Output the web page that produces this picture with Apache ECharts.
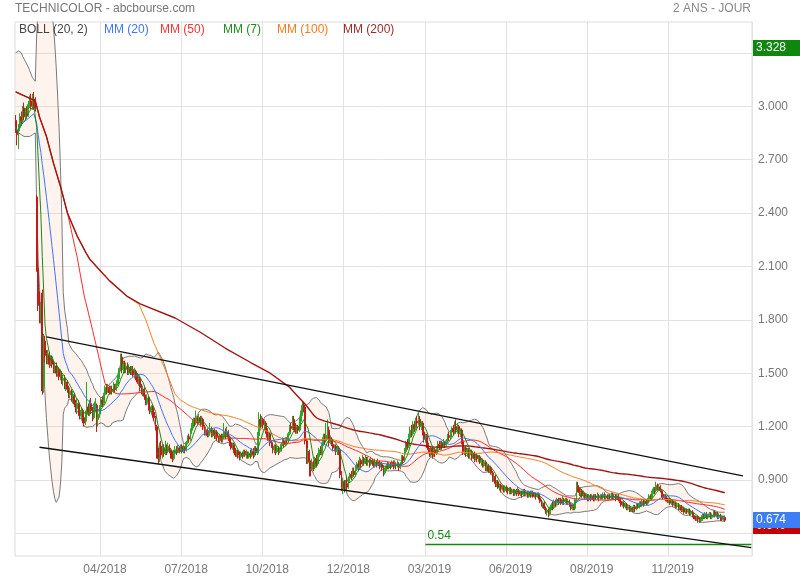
<!DOCTYPE html>
<html>
<head>
<meta charset="utf-8">
<script src="https://cdn.jsdelivr.net/npm/echarts/dist/echarts.min.js"></script>
<style>html,body{margin:0;padding:0;background:#fff}#chart{width:800px;height:580px}</style>
</head>
<body>
<div id="chart"></div>
<script>
// ---------- DATA ----------
const firstDay = '2018-01-23';
const marketHolidays = ['2018-03-30','2018-04-02','2018-05-01','2018-12-25','2018-12-26','2019-01-01','2019-04-19','2019-04-22','2019-05-01','2019-12-25','2019-12-26','2020-01-01'];
const categoryCount = 527;
const firstLabelIndex = 61;
const labelStep = 58;

// daily candles: [open, close, low, high]
const candles = [
[2.92,2.88,2.85,2.95],[2.86,2.84,2.78,2.90],[2.83,2.88,2.76,2.90],[2.88,2.94,2.86,2.96],[2.94,2.92,2.89,2.97],[2.93,2.98,2.91,3.00],[2.99,2.94,2.92,3.02],[2.94,2.97,2.92,2.99],[2.97,2.95,2.93,3.00],[2.96,3.01,2.94,3.03],
[3.01,3.03,2.99,3.06],[3.03,3.00,2.98,3.07],[3.00,3.04,2.98,3.07],[3.04,3.02,2.98,3.08],[3.03,2.99,2.97,3.05],[2.49,2.08,2.07,2.50],[2.09,1.88,1.85,2.12],[1.90,1.84,1.78,1.96],[1.83,1.88,1.78,1.90],[1.95,1.40,1.38,1.97],
[1.42,1.70,1.39,1.72],[1.68,1.60,1.56,1.71],[1.61,1.57,1.55,1.63],[1.57,1.61,1.55,1.63],[1.60,1.55,1.53,1.62],[1.56,1.58,1.54,1.60],[1.58,1.55,1.53,1.60],[1.55,1.52,1.50,1.57],[1.52,1.54,1.50,1.56],[1.54,1.50,1.48,1.56],
[1.50,1.52,1.48,1.54],[1.52,1.48,1.46,1.53],[1.48,1.50,1.46,1.52],[1.49,1.46,1.44,1.51],[1.46,1.47,1.43,1.49],[1.47,1.43,1.41,1.49],[1.43,1.45,1.40,1.47],[1.45,1.41,1.39,1.46],[1.41,1.38,1.36,1.43],[1.38,1.40,1.36,1.42],
[1.40,1.36,1.34,1.41],[1.36,1.38,1.33,1.40],[1.37,1.33,1.31,1.39],[1.33,1.30,1.28,1.35],[1.30,1.33,1.27,1.36],[1.33,1.29,1.26,1.35],[1.29,1.26,1.24,1.31],[1.26,1.29,1.24,1.31],[1.29,1.25,1.22,1.30],[1.25,1.22,1.20,1.27],
[1.23,1.27,1.21,1.29],[1.27,1.31,1.25,1.45],[1.31,1.28,1.26,1.33],[1.28,1.33,1.26,1.35],[1.33,1.29,1.27,1.36],[1.29,1.25,1.23,1.31],[1.25,1.31,1.24,1.33],[1.31,1.34,1.28,1.36],[1.32,1.24,1.17,1.33],[1.24,1.27,1.20,1.29],
[1.27,1.31,1.25,1.32],[1.31,1.35,1.29,1.36],[1.35,1.33,1.31,1.37],[1.33,1.38,1.32,1.39],[1.38,1.42,1.36,1.43],[1.42,1.40,1.38,1.44],[1.40,1.42,1.39,1.44],[1.42,1.39,1.38,1.43],[1.39,1.41,1.38,1.43],[1.41,1.40,1.38,1.43],
[1.40,1.43,1.39,1.45],[1.43,1.41,1.39,1.44],[1.41,1.44,1.40,1.46],[1.44,1.47,1.43,1.49],[1.47,1.52,1.46,1.53],[1.52,1.59,1.51,1.61],[1.59,1.52,1.50,1.61],[1.52,1.55,1.50,1.57],[1.55,1.52,1.50,1.57],[1.52,1.54,1.50,1.56],
[1.54,1.50,1.49,1.56],[1.50,1.53,1.49,1.55],[1.53,1.51,1.49,1.54],[1.51,1.52,1.49,1.54],[1.52,1.49,1.48,1.54],[1.49,1.51,1.47,1.53],[1.51,1.48,1.46,1.52],[1.48,1.45,1.44,1.50],[1.45,1.47,1.43,1.49],[1.47,1.42,1.40,1.48],
[1.42,1.40,1.38,1.44],[1.40,1.41,1.37,1.43],[1.41,1.37,1.35,1.42],[1.37,1.34,1.32,1.38],[1.34,1.36,1.32,1.38],[1.36,1.31,1.29,1.37],[1.31,1.29,1.27,1.33],[1.29,1.31,1.27,1.32],[1.31,1.27,1.25,1.32],[1.28,1.25,1.23,1.29],
[1.25,1.20,1.18,1.26],[1.20,1.05,1.02,1.21],[1.05,1.02,0.99,1.08],[1.02,1.09,1.00,1.11],[1.09,1.04,1.02,1.12],[1.04,1.08,1.02,1.10],[1.08,1.05,1.03,1.10],[1.05,1.08,1.04,1.12],[1.08,1.06,1.04,1.10],[1.06,1.09,1.05,1.11],
[1.09,1.07,1.05,1.10],[1.07,1.04,1.02,1.08],[1.04,1.02,1.00,1.06],[1.02,1.05,1.01,1.07],[1.05,1.07,1.04,1.09],[1.07,1.06,1.04,1.09],[1.06,1.08,1.05,1.10],[1.08,1.07,1.05,1.09],[1.07,1.09,1.06,1.10],[1.09,1.06,1.05,1.10],
[1.06,1.08,1.05,1.10],[1.08,1.07,1.05,1.09],[1.07,1.11,1.06,1.12],[1.11,1.14,1.10,1.15],[1.14,1.13,1.11,1.16],[1.13,1.18,1.12,1.19],[1.18,1.21,1.16,1.22],[1.21,1.24,1.19,1.25],[1.24,1.22,1.20,1.25],[1.22,1.25,1.21,1.29],
[1.25,1.23,1.21,1.26],[1.23,1.25,1.22,1.27],[1.25,1.22,1.20,1.26],[1.22,1.24,1.21,1.26],[1.24,1.20,1.18,1.25],[1.20,1.16,1.15,1.21],[1.16,1.18,1.15,1.20],[1.18,1.15,1.14,1.19],[1.15,1.17,1.14,1.18],[1.17,1.19,1.15,1.22],
[1.19,1.16,1.14,1.20],[1.16,1.18,1.14,1.19],[1.18,1.15,1.13,1.19],[1.15,1.17,1.13,1.18],[1.17,1.14,1.12,1.18],[1.14,1.12,1.11,1.15],[1.12,1.15,1.11,1.16],[1.15,1.13,1.11,1.16],[1.13,1.14,1.11,1.16],[1.14,1.17,1.13,1.22],
[1.17,1.15,1.13,1.19],[1.15,1.17,1.14,1.20],[1.17,1.14,1.12,1.18],[1.14,1.11,1.09,1.15],[1.11,1.08,1.07,1.12],[1.08,1.10,1.07,1.11],[1.10,1.06,1.05,1.11],[1.06,1.04,1.03,1.08],[1.04,1.06,1.03,1.07],[1.06,1.04,1.02,1.07],
[1.04,1.03,1.01,1.06],[1.03,1.05,1.02,1.06],[1.05,1.04,1.02,1.06],[1.04,1.06,1.03,1.07],[1.06,1.04,1.03,1.07],[1.04,1.05,1.02,1.07],[1.05,1.03,1.02,1.06],[1.03,1.05,1.02,1.06],[1.05,1.04,1.02,1.07],[1.04,1.06,1.03,1.08],
[1.06,1.04,1.02,1.08],[1.04,1.08,1.03,1.09],[1.08,1.06,1.04,1.09],[1.05,1.15,1.04,1.17],[1.15,1.24,1.13,1.28],[1.24,1.21,1.19,1.27],[1.21,1.24,1.20,1.26],[1.24,1.21,1.19,1.25],[1.21,1.22,1.18,1.24],[1.22,1.18,1.16,1.23],
[1.18,1.14,1.12,1.19],[1.14,1.16,1.12,1.17],[1.16,1.11,1.09,1.17],[1.11,1.09,1.08,1.12],[1.09,1.07,1.05,1.10],[1.07,1.09,1.05,1.10],[1.09,1.06,1.04,1.10],[1.06,1.08,1.05,1.09],[1.08,1.06,1.04,1.09],[1.06,1.07,1.05,1.08],
[1.07,1.10,1.06,1.11],[1.10,1.12,1.09,1.14],[1.12,1.10,1.08,1.13],[1.10,1.13,1.09,1.14],[1.13,1.12,1.10,1.14],[1.12,1.16,1.11,1.17],[1.16,1.20,1.15,1.21],[1.20,1.19,1.17,1.22],[1.19,1.24,1.18,1.26],[1.24,1.20,1.18,1.26],
[1.20,1.17,1.16,1.22],[1.17,1.20,1.16,1.21],[1.20,1.18,1.16,1.21],[1.18,1.23,1.17,1.25],[1.23,1.27,1.22,1.29],[1.27,1.32,1.26,1.34],[1.32,1.30,1.28,1.34],[1.31,1.12,1.10,1.32],[1.12,1.02,0.99,1.13],[1.03,1.06,0.99,1.08],
[1.06,1.00,0.92,1.07],[1.00,0.96,0.92,1.01],[0.96,1.00,0.95,1.02],[1.00,0.97,0.95,1.01],[0.97,1.02,0.96,1.03],[1.02,0.99,0.97,1.04],[0.99,1.03,0.98,1.05],[1.03,1.07,1.02,1.08],[1.07,1.05,1.04,1.09],[1.05,1.10,1.04,1.11],
[1.10,1.14,1.09,1.16],[1.14,1.12,1.10,1.16],[1.12,1.15,1.11,1.22],[1.15,1.17,1.13,1.24],[1.18,1.11,1.09,1.20],[1.11,1.13,1.10,1.15],[1.13,1.10,1.09,1.14],[1.10,1.08,1.06,1.11],[1.08,1.09,1.06,1.10],[1.09,1.06,1.04,1.10],
[1.06,1.08,1.04,1.09],[1.08,1.06,1.04,1.09],[1.07,0.93,0.91,1.08],[0.93,0.86,0.84,0.95],[0.86,0.89,0.82,0.91],[0.89,0.85,0.83,0.90],[0.85,0.88,0.84,0.90],[0.88,0.86,0.84,0.92],[0.86,0.91,0.85,0.92],[0.91,0.93,0.89,0.94],
[0.93,0.92,0.90,0.95],[0.92,0.95,0.91,0.97],[0.95,0.93,0.92,0.97],[0.93,0.96,0.92,0.98],[0.96,0.99,0.95,1.00],[0.99,0.97,0.95,1.01],[0.97,1.01,0.96,1.03],[1.01,0.99,0.97,1.02],[0.99,1.02,0.98,1.04],[1.02,1.00,0.98,1.03],
[1.00,1.02,0.99,1.04],[1.02,1.00,0.98,1.03],[1.00,1.01,0.98,1.03],[1.01,0.99,0.97,1.02],[0.99,1.01,0.98,1.03],[1.01,1.00,0.98,1.02],[1.00,0.98,0.97,1.01],[0.98,1.00,0.97,1.02],[1.00,0.99,0.97,1.01],[0.99,1.00,0.98,1.02],
[1.00,0.98,0.96,1.01],[0.98,0.99,0.97,1.00],[0.99,0.97,0.95,1.00],[0.97,0.94,0.92,0.98],[0.94,0.96,0.93,0.97],[0.96,0.98,0.95,0.99],[0.98,0.97,0.96,1.00],[0.97,0.99,0.96,1.00],[0.99,0.98,0.96,1.00],[0.98,1.00,0.97,1.01],
[1.00,0.98,0.96,1.01],[0.98,0.99,0.97,1.01],[0.99,0.98,0.96,1.00],[0.98,0.99,0.97,1.01],[0.99,0.97,0.95,1.00],[0.97,0.99,0.96,1.00],[0.99,1.03,0.98,1.04],[1.03,1.01,0.99,1.04],[1.01,1.06,1.00,1.08],[1.06,1.11,1.05,1.12],
[1.11,1.09,1.07,1.13],[1.09,1.14,1.08,1.16],[1.14,1.18,1.12,1.20],[1.18,1.16,1.14,1.21],[1.16,1.21,1.15,1.23],[1.21,1.19,1.17,1.23],[1.19,1.23,1.18,1.25],[1.23,1.22,1.20,1.26],[1.22,1.24,1.21,1.28],[1.24,1.20,1.18,1.26],
[1.20,1.22,1.18,1.23],[1.22,1.17,1.15,1.23],[1.17,1.13,1.11,1.18],[1.13,1.15,1.11,1.16],[1.15,1.10,1.08,1.16],[1.10,1.07,1.05,1.11],[1.07,1.05,1.03,1.08],[1.05,1.08,1.03,1.09],[1.08,1.04,1.02,1.09],[1.04,1.07,1.03,1.08],
[1.07,1.05,1.03,1.08],[1.05,1.08,1.04,1.09],[1.08,1.10,1.06,1.12],[1.10,1.08,1.07,1.12],[1.08,1.11,1.07,1.12],[1.11,1.09,1.07,1.12],[1.09,1.11,1.08,1.13],[1.11,1.10,1.08,1.12],[1.10,1.12,1.09,1.13],[1.12,1.15,1.11,1.16],
[1.15,1.14,1.12,1.17],[1.14,1.17,1.13,1.18],[1.17,1.19,1.15,1.20],[1.19,1.17,1.15,1.21],[1.17,1.20,1.16,1.23],[1.20,1.18,1.16,1.24],[1.18,1.20,1.16,1.22],[1.20,1.16,1.14,1.21],[1.16,1.18,1.14,1.19],[1.18,1.12,1.10,1.19],
[1.12,1.06,1.04,1.13],[1.06,1.08,1.04,1.09],[1.08,1.05,1.03,1.09],[1.05,1.07,1.03,1.08],[1.07,1.04,1.02,1.08],[1.04,1.06,1.02,1.07],[1.06,1.03,1.01,1.07],[1.03,1.05,1.02,1.06],[1.05,1.02,1.00,1.06],[1.02,1.04,1.01,1.05],
[1.04,1.02,1.00,1.05],[1.02,1.03,1.00,1.04],[1.03,1.00,0.99,1.04],[1.00,1.01,0.98,1.02],[1.01,0.98,0.97,1.02],[0.98,1.00,0.97,1.01],[1.00,0.97,0.95,1.01],[0.97,0.98,0.95,0.99],[0.98,0.95,0.94,0.99],[0.95,0.97,0.94,0.98],
[0.97,0.94,0.93,0.98],[0.94,0.91,0.89,0.95],[0.91,0.92,0.89,0.93],[0.92,0.88,0.86,0.93],[0.88,0.89,0.86,0.90],[0.89,0.86,0.85,0.90],[0.86,0.87,0.84,0.88],[0.87,0.85,0.83,0.88],[0.85,0.86,0.84,0.87],[0.86,0.84,0.83,0.87],
[0.84,0.86,0.83,0.87],[0.86,0.85,0.83,0.87],[0.85,0.84,0.82,0.86],[0.84,0.85,0.82,0.86],[0.85,0.83,0.82,0.86],[0.83,0.84,0.82,0.85],[0.84,0.82,0.81,0.85],[0.82,0.84,0.81,0.85],[0.84,0.83,0.81,0.85],[0.83,0.84,0.82,0.86],
[0.84,0.82,0.81,0.85],[0.82,0.83,0.81,0.84],[0.83,0.82,0.80,0.84],[0.82,0.84,0.81,0.85],[0.84,0.82,0.81,0.85],[0.82,0.83,0.81,0.84],[0.83,0.81,0.80,0.84],[0.81,0.83,0.80,0.84],[0.83,0.82,0.80,0.84],[0.82,0.83,0.81,0.84],
[0.83,0.81,0.80,0.84],[0.81,0.82,0.80,0.83],[0.82,0.81,0.79,0.83],[0.81,0.82,0.80,0.83],[0.82,0.80,0.79,0.83],[0.80,0.78,0.77,0.81],[0.78,0.76,0.75,0.79],[0.76,0.77,0.74,0.78],[0.77,0.74,0.73,0.78],[0.74,0.72,0.71,0.75],
[0.72,0.73,0.70,0.74],[0.73,0.71,0.69,0.74],[0.71,0.74,0.70,0.75],[0.74,0.76,0.73,0.77],[0.76,0.75,0.73,0.78],[0.75,0.78,0.74,0.79],[0.78,0.77,0.75,0.79],[0.77,0.79,0.76,0.80],[0.79,0.78,0.76,0.80],[0.78,0.79,0.77,0.80],
[0.79,0.77,0.76,0.80],[0.77,0.79,0.76,0.81],[0.79,0.78,0.76,0.80],[0.78,0.79,0.77,0.80],[0.79,0.77,0.76,0.80],[0.77,0.78,0.76,0.79],[0.78,0.76,0.75,0.79],[0.76,0.74,0.73,0.77],[0.74,0.75,0.73,0.76],[0.75,0.74,0.73,0.76],
[0.74,0.79,0.73,0.80],[0.79,0.87,0.78,0.89],[0.87,0.85,0.83,0.89],[0.85,0.83,0.81,0.86],[0.83,0.84,0.81,0.86],[0.84,0.81,0.80,0.85],[0.81,0.82,0.80,0.84],[0.82,0.80,0.79,0.83],[0.80,0.81,0.79,0.82],[0.81,0.79,0.78,0.82],
[0.79,0.81,0.78,0.82],[0.81,0.80,0.78,0.82],[0.80,0.81,0.79,0.82],[0.81,0.79,0.78,0.82],[0.79,0.81,0.78,0.82],[0.81,0.80,0.79,0.82],[0.80,0.81,0.79,0.83],[0.81,0.80,0.78,0.82],[0.80,0.81,0.79,0.82],[0.81,0.80,0.79,0.82],
[0.80,0.82,0.79,0.83],[0.82,0.80,0.79,0.83],[0.80,0.81,0.79,0.82],[0.81,0.80,0.79,0.82],[0.80,0.81,0.79,0.82],[0.81,0.80,0.79,0.82],[0.80,0.82,0.79,0.83],[0.82,0.80,0.79,0.83],[0.80,0.81,0.79,0.82],[0.81,0.80,0.78,0.82],
[0.80,0.81,0.79,0.82],[0.81,0.79,0.78,0.82],[0.79,0.78,0.77,0.80],[0.78,0.76,0.75,0.79],[0.76,0.77,0.75,0.78],[0.77,0.75,0.74,0.78],[0.75,0.76,0.74,0.77],[0.76,0.74,0.73,0.77],[0.74,0.75,0.73,0.76],[0.75,0.73,0.72,0.76],
[0.73,0.74,0.72,0.75],[0.74,0.73,0.72,0.75],[0.73,0.75,0.72,0.76],[0.75,0.74,0.72,0.76],[0.74,0.76,0.73,0.77],[0.76,0.75,0.74,0.77],[0.75,0.77,0.74,0.78],[0.77,0.76,0.75,0.78],[0.76,0.78,0.75,0.79],[0.78,0.77,0.75,0.79],
[0.77,0.78,0.76,0.79],[0.78,0.77,0.76,0.79],[0.77,0.79,0.76,0.80],[0.79,0.81,0.78,0.82],[0.81,0.80,0.79,0.82],[0.80,0.83,0.79,0.84],[0.83,0.85,0.82,0.86],[0.85,0.84,0.82,0.86],[0.84,0.87,0.83,0.89],[0.87,0.85,0.84,0.88],
[0.85,0.86,0.84,0.87],[0.86,0.84,0.83,0.87],[0.84,0.82,0.80,0.85],[0.82,0.80,0.79,0.83],[0.80,0.81,0.79,0.82],[0.81,0.79,0.78,0.82],[0.79,0.78,0.77,0.80],[0.78,0.79,0.77,0.80],[0.79,0.77,0.76,0.80],[0.77,0.78,0.76,0.79],
[0.78,0.76,0.75,0.79],[0.76,0.77,0.75,0.78],[0.77,0.75,0.74,0.78],[0.75,0.76,0.74,0.77],[0.76,0.74,0.73,0.77],[0.74,0.75,0.73,0.76],[0.75,0.73,0.72,0.76],[0.73,0.74,0.72,0.75],[0.74,0.72,0.71,0.75],[0.72,0.73,0.71,0.74],
[0.73,0.72,0.71,0.74],[0.72,0.73,0.71,0.74],[0.73,0.71,0.70,0.74],[0.71,0.72,0.70,0.73],[0.72,0.70,0.69,0.73],[0.70,0.69,0.68,0.71],[0.69,0.68,0.67,0.70],[0.68,0.69,0.67,0.70],[0.69,0.68,0.66,0.70],[0.68,0.67,0.66,0.69],
[0.67,0.68,0.66,0.69],[0.68,0.70,0.67,0.71],[0.70,0.69,0.68,0.71],[0.69,0.71,0.68,0.72],[0.71,0.69,0.68,0.72],[0.69,0.70,0.68,0.71],[0.70,0.71,0.69,0.72],[0.71,0.69,0.68,0.72],[0.69,0.70,0.68,0.71],[0.70,0.72,0.69,0.73],
[0.72,0.70,0.69,0.73],[0.70,0.71,0.69,0.72],[0.71,0.69,0.68,0.72],[0.69,0.70,0.68,0.71],[0.70,0.69,0.67,0.71],[0.69,0.68,0.67,0.70],[0.68,0.69,0.67,0.70],[0.69,0.674,0.665,0.70]
];

// Bollinger band values read for the first candles (window not yet full in the visible data)
const bbUpperHead = [3.30,3.31,3.31,3.30,3.30,3.28,3.27,3.25,3.24,3.22,3.20,3.18,3.16,3.15,3.14,3.40,3.55,3.62,3.66];
const bbLowerHead = [2.87,2.86,2.85,2.84,2.84,2.83,2.83,2.83,2.83,2.83,2.83,2.84,2.84,2.85,2.85,2.45,2.15,1.98,1.82];
// long moving averages read where their window is not yet full: [candle index, value]
const ma50Head = [[0,3.08],[14,3.03],[17,2.94],[22,2.83],[27,2.68],[32,2.55],[37,2.40],[44,2.15]];
const ma100Head = [[0,3.08],[14,3.03],[17,2.94],[22,2.83],[27,2.68],[32,2.55],[37,2.40],[44,2.27],[50,2.18],[53,2.14],[60,2.08],[67,2.02],[80,1.93],[88,1.89],[93,1.80],[97,1.71]];
const ma200Head = [[0,3.08],[14,3.03],[17,2.94],[22,2.83],[27,2.68],[32,2.55],[37,2.40],[44,2.27],[50,2.18],[53,2.14],[60,2.08],[67,2.02],[80,1.93],[89,1.89],[114,1.81],[132,1.73],[150,1.64],[168,1.56],[182,1.50],[196,1.42]];

const channelUpper = [[22,1.704],[520,0.923]];
const channelLower = [[17,1.084],[526,0.520]];
const supportLevel = 0.54;
const supportStartIndex = 293;
const gridValues = [0.6,0.9,1.2,1.5,1.8,2.1,2.4,2.7,3.0,3.3];
const labelValues = [0.9,1.2,1.5,1.8,2.1,2.4,2.7,3.0];
const highValue = 3.328;
const lastValue = 0.674;
const hiddenValue = 0.64;
const legendNames = ['BOLL (20, 2)','MM (20)','MM (50)','MM (7)','MM (100)','MM (200)'];

// ---------- DERIVED ----------
function tradingDays(){
  const out=[]; const p=firstDay.split('-').map(Number);
  const d=new Date(Date.UTC(p[0],p[1]-1,p[2]));
  while(out.length<categoryCount){
    const wd=d.getUTCDay(); const s=d.toISOString().slice(0,10);
    if(wd!==0 && wd!==6 && marketHolidays.indexOf(s)<0) out.push(s);
    d.setUTCDate(d.getUTCDate()+1);
  }
  return out;
}
const dates = tradingDays();
const closes = candles.map(c=>c[1]);
const n = closes.length;

function shortMA(win){
  return closes.map((_,i)=>{const a=Math.max(0,i-win+1);let s=0;for(let k=a;k<=i;k++)s+=closes[k];return +(s/(i-a+1)).toFixed(4);});
}
function longMA(win, head){
  const out=new Array(n).fill(null);
  head.forEach(h=>{out[h[0]]=h[1];});
  for(let i=win-1;i<n;i++){let s=0;for(let k=i-win+1;k<=i;k++)s+=closes[k];out[i]=+(s/win).toFixed(4);}
  return out;
}
const ma7 = shortMA(7), ma20 = shortMA(20);
const ma50 = longMA(50, ma50Head), ma100 = longMA(100, ma100Head), ma200 = longMA(200, ma200Head);
const bbUp=[], bbLow=[];
for(let i=0;i<n;i++){
  if(i<19){bbUp.push(bbUpperHead[i]);bbLow.push(bbLowerHead[i]);continue;}
  let s=0;for(let k=i-19;k<=i;k++)s+=closes[k];const m=s/20;
  let v=0;for(let k=i-19;k<=i;k++)v+=(closes[k]-m)*(closes[k]-m);
  const sd=Math.sqrt(v/20);
  bbUp.push(+(m+2*sd).toFixed(4));bbLow.push(+(m-2*sd).toFixed(4));
}
const bbDiff = bbUp.map((u,i)=>+(u-bbLow[i]).toFixed(4));

// ---------- CHART ----------
const FONT = 'Arial, "Liberation Sans", sans-serif';
const showIdx = (i)=> i>=firstLabelIndex && i<n && (i-firstLabelIndex)%labelStep===0;
const chart = echarts.init(document.getElementById('chart'), null, {renderer:'canvas'});
function lineS(name,data,color,width,z){
  return {name,type:'line',data,symbol:'none',connectNulls:true,z:z||4,
    lineStyle:{color,width},itemStyle:{color},silent:true,animation:false};
}
const legendColors = ['#444','#3f74ff','#ff3030','#1e8e1e','#ff7a1a','#9e2b2b'];
const legendX = [19,104,160,223,277,343];

const option = {
  animation:false,
  backgroundColor:'#fff',
  grid:{left:15,right:48,top:22,bottom:24,show:true,borderColor:'#dcdcdc',borderWidth:1,backgroundColor:'transparent'},
  xAxis:{type:'category',data:dates,boundaryGap:true,
    axisLine:{show:false},axisTick:{show:false},
    axisLabel:{interval:(i)=>showIdx(i),formatter:(v)=>v.slice(5,7)+'/'+v.slice(0,4),color:'#777',fontSize:12,fontFamily:FONT,margin:8,padding:[0,0,0,8]},
    splitLine:{show:true,interval:(i)=>showIdx(i),lineStyle:{color:'#e2e2e2',width:1}}},
  yAxis:{type:'value',position:'right',min:0.473,max:3.473,scale:true,
    axisLine:{show:false},
    axisTick:{show:false,customValues:gridValues},
    axisLabel:{customValues:labelValues,formatter:(v)=>v.toFixed(3),color:'#777',fontSize:12,fontFamily:FONT,margin:6,padding:[0,0,5,0]},
    splitLine:{show:true,lineStyle:{color:'#e2e2e2',width:1}}},
  graphic:[
    {type:'text',left:15,top:3,style:{text:'TECHNICOLOR - abcbourse.com',fill:'#777',font:'12px '+FONT}},
    {type:'text',right:49,top:3,style:{text:'2 ANS - JOUR',fill:'#888',font:'12px '+FONT}}
  ].concat(legendNames.map((t,k)=>({type:'text',left:legendX[k],top:24,z:100,style:{text:t,fill:legendColors[k],font:'12px '+FONT}}))),
  series:[
    {name:'bbLow',type:'line',data:bbLow,stack:'bb',symbol:'none',z:1,silent:true,lineStyle:{color:'#7a7a7a',width:1}},
    {name:'bbFill',type:'line',data:bbDiff,stack:'bb',symbol:'none',z:1,silent:true,lineStyle:{width:0},areaStyle:{color:'rgba(247,178,135,0.22)'}},
    {name:'bbUp',type:'line',data:bbUp,symbol:'none',z:1,silent:true,lineStyle:{color:'#7a7a7a',width:1}},
    {name:'candles',type:'candlestick',data:candles.map(c=>[c[0],c[1],c[2],c[3]]),z:3,barWidth:1.4,silent:true,
      itemStyle:{color:'#2fcf2f',color0:'#e32222',borderColor:'#25a825',borderColor0:'#c21b1b',borderWidth:1},
      markLine:{silent:true,symbol:['none','none'],animation:false,
        data:[
          [{coord:[supportStartIndex,supportLevel],lineStyle:{color:'#118a11',width:1.3,type:'solid'},
            label:{show:true,position:'insideStartTop',formatter:String(supportLevel),color:'#1a8a1a',fontSize:12,fontFamily:FONT,distance:2}},
           {coord:[categoryCount-1,supportLevel]}]
        ]}},
    lineS('MM (50)',ma50,'#ff2a2a',1,4),
    lineS('MM (100)',ma100,'#ff7d20',1,4),
    lineS('MM (200)',ma200,'#a11313',1.4,5),
    lineS('MM (20)',ma20,'#3f74ff',1,6),
    lineS('MM (7)',ma7,'#1a8a1a',1,7),
    lineS('channelUpper',channelUpper,'#111',1.3,8),
    lineS('channelLower',channelLower,'#111',1.3,8)
  ]
};
chart.setOption(option);

// price tags on the right edge, placed through the value axis
const tags = [[highValue,'#0f870f'],[hiddenValue,'#c40000'],[lastValue,'#3d7df5']];
const tagX = chart.convertToPixel({gridIndex:0},[0,0])[0];
const rightEdge = 752;
chart.setOption({graphic: option.graphic.concat(tags.map((t,k)=>{
  const y = chart.convertToPixel({yAxisIndex:0}, t[0]);
  return {type:'group',left:rightEdge+1,top:Math.round(y-8),z:200+k,children:[
    {type:'rect',shape:{x:0,y:0,width:47,height:16},style:{fill:t[1]}},
    {type:'text',x:3,y:2,style:{text:t[0].toFixed(3),fill:'#fff',font:'12px '+FONT}}
  ]};
}))});
</script>
